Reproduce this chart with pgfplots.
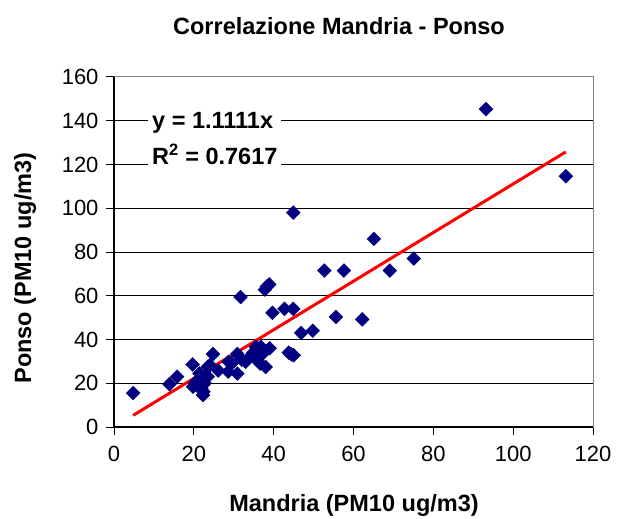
\documentclass[border=0pt]{standalone}
\usepackage{pgfplots}
\pgfplotsset{compat=1.18}
\usepackage{fontspec}
\setmainfont{Liberation Sans}
\definecolor{navy}{HTML}{000080}
\begin{document}
\begin{tikzpicture}[x=1bp,y=1bp]
\useasboundingbox (-114bp,-92bp) rectangle (503bp,427bp);
\begin{axis}[
  at={(0,0)}, anchor=origin,
  scale only axis, width=479bp, height=350bp,
  xmin=0, xmax=120, ymin=0, ymax=160,
  xtick={0,20,...,120}, ytick={0,20,...,160},
  axis line style={draw=gray, line width=1pt},
  ymajorgrids, grid style={black, line width=1pt},
  tick align=outside, major tick length=8bp,
  tick style={black, line width=1pt},
  xtick pos=bottom, ytick pos=left,
  /pgf/number format/assume math mode=true,
  tick label style={font=\fontsize{22bp}{26bp}\selectfont},
  xticklabel style={yshift=-8bp},
  yticklabel style={xshift=-4bp},
  clip=false,
]
\addplot[only marks, mark=square*, mark size=4.9bp, mark options={fill=navy, draw=navy, rotate=45}] coordinates {
(4.8,15.5) (13.9,19.6) (15.8,23.0) (19.7,28.6) (19.8,18.4) (21.0,21.5)
(22.3,14.6) (22.7,20.0) (23.5,23.0) (21.4,24.5) (21.9,17.7) (20.5,20.5)
(22.4,16.1) (20.3,19.2) (24.8,33.3) (24.0,28.3) (23.5,27.5) (26.1,25.8)
(28.6,25.3) (28.7,29.8) (30.9,24.4) (29.5,29.1) (30.9,33.4) (31.7,59.4)
(32.0,30.8) (33.0,29.8) (34.0,32.0) (34.9,34.0) (35.7,35.5) (35.6,36.6)
(35.9,30.4) (36.6,29.0) (37.3,33.6) (38.0,27.4) (36.8,36.7) (39.0,36.0)
(37.8,62.8) (38.3,64.2) (38.9,65.2) (39.7,52.2) (42.7,54.0) (44.9,54.0)
(44.9,98.0) (43.8,34.0) (45.0,32.8) (44.4,33.2) (46.9,43.0) (49.8,44.0)
(52.7,71.5) (57.6,71.5) (55.6,50.3) (62.2,49.2) (65.1,86.0) (69.1,71.5)
(75.1,77.0) (93.2,145.3) (113.2,114.6)
};
\addplot[red, line width=3bp] coordinates {(4.8,5.33) (113.2,125.78)};
\draw[black, line width=1.3pt] (rel axis cs:0,1) -- (rel axis cs:0,0) -- (rel axis cs:1,0);
\end{axis}
\node[fill=white, align=left, anchor=west, inner sep=4bp,
  font=\fontsize{23.5bp}{36bp}\selectfont\bfseries] at (34bp,288bp)
  {y = 1.1111x\\R\textsuperscript{2} = 0.7617};
\node[font=\fontsize{23.5bp}{27bp}\selectfont\bfseries] at (225bp,401bp) {Correlazione Mandria - Ponso};
\node[font=\fontsize{23.5bp}{27bp}\selectfont\bfseries] at (240bp,-78bp) {Mandria (PM10 ug/m3)};
\node[rotate=90, font=\fontsize{23.5bp}{27bp}\selectfont\bfseries] at (-89bp,159bp) {Ponso (PM10 ug/m3)};
\end{tikzpicture}
\end{document}
